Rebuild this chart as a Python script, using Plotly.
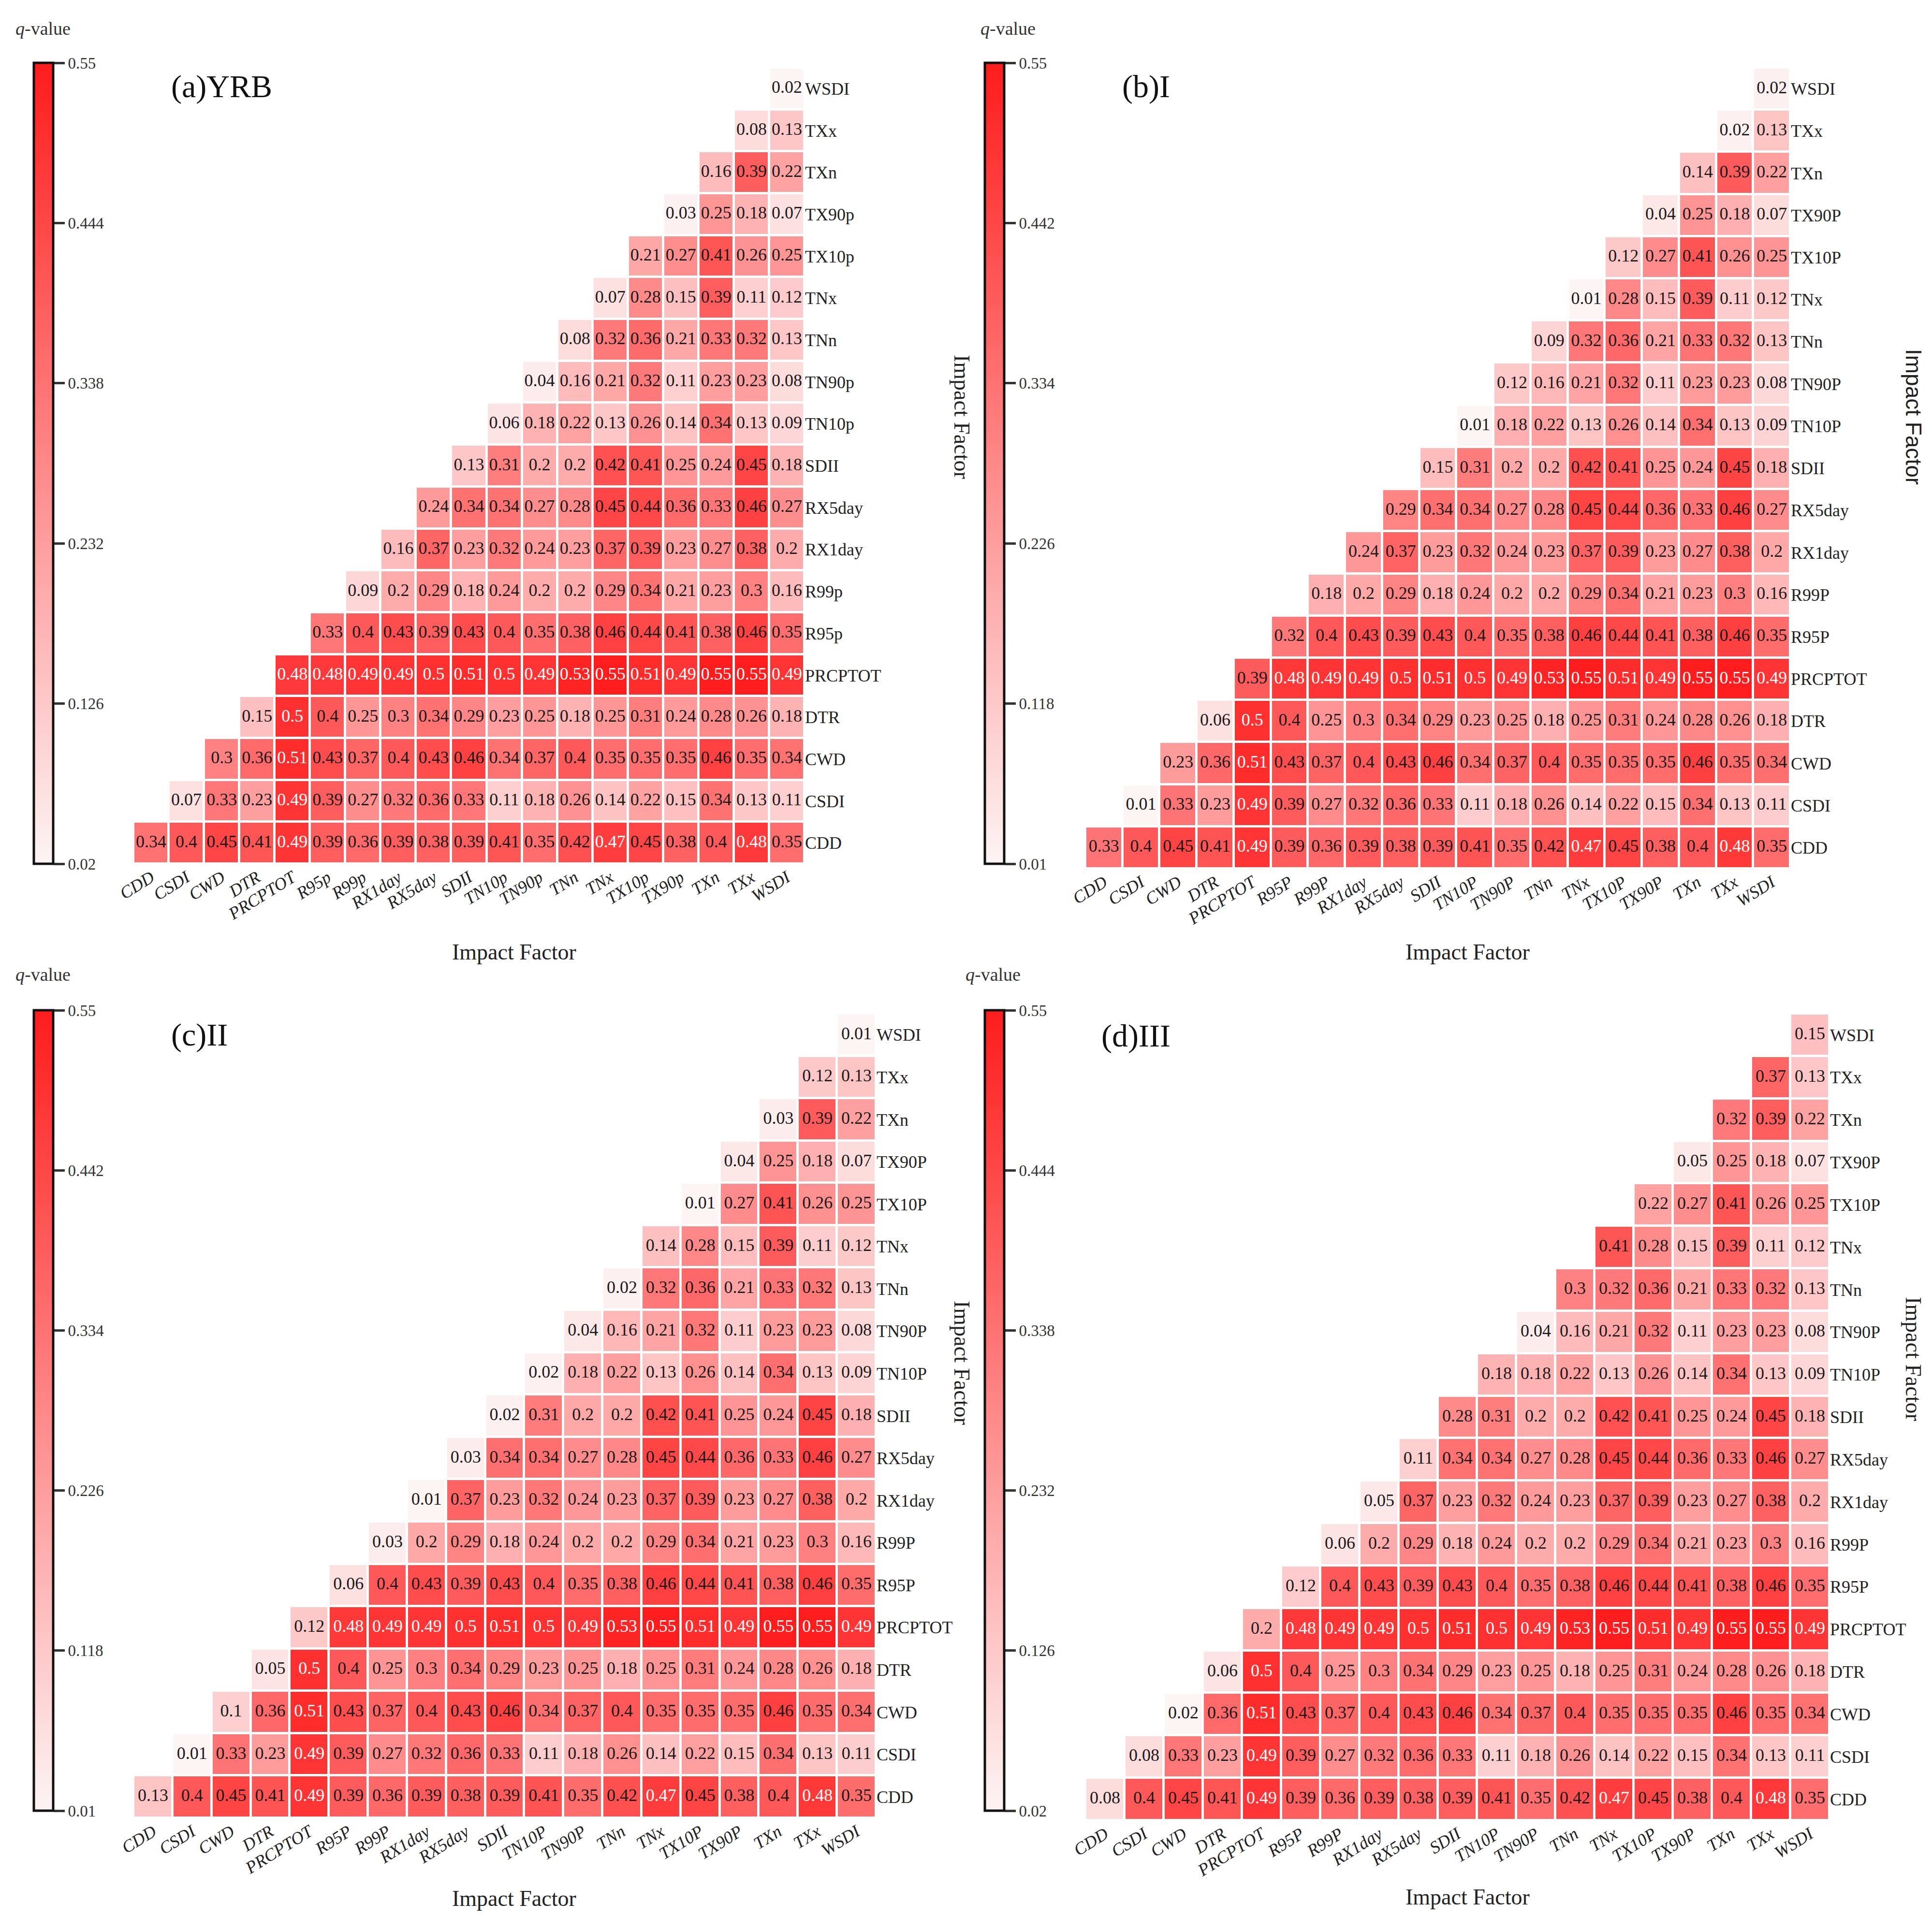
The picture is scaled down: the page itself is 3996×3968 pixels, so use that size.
import plotly.graph_objects as go

W, H = 3996, 3968

# factor names (panel a uses lower-case p, panels b-d upper-case P)
factors_yrb = ["CDD", "CSDI", "CWD", "DTR", "PRCPTOT", "R95p", "R99p", "RX1day", "RX5day", "SDII",
               "TN10p", "TN90p", "TNn", "TNx", "TX10p", "TX90p", "TXn", "TXx", "WSDI"]
factors_sub = ["CDD", "CSDI", "CWD", "DTR", "PRCPTOT", "R95P", "R99P", "RX1day", "RX5day", "SDII",
               "TN10P", "TN90P", "TNn", "TNx", "TX10P", "TX90P", "TXn", "TXx", "WSDI"]

# interaction q-values shared by all four panels (row factor, columns to the right of the diagonal)
q_CDD = [0.4, 0.45, 0.41, 0.49, 0.39, 0.36, 0.39, 0.38, 0.39, 0.41, 0.35, 0.42, 0.47, 0.45, 0.38, 0.4, 0.48, 0.35]
q_CSDI = [0.33, 0.23, 0.49, 0.39, 0.27, 0.32, 0.36, 0.33, 0.11, 0.18, 0.26, 0.14, 0.22, 0.15, 0.34, 0.13, 0.11]
q_CWD = [0.36, 0.51, 0.43, 0.37, 0.4, 0.43, 0.46, 0.34, 0.37, 0.4, 0.35, 0.35, 0.35, 0.46, 0.35, 0.34]
q_DTR = [0.5, 0.4, 0.25, 0.3, 0.34, 0.29, 0.23, 0.25, 0.18, 0.25, 0.31, 0.24, 0.28, 0.26, 0.18]
q_PRCPTOT = [0.48, 0.49, 0.49, 0.5, 0.51, 0.5, 0.49, 0.53, 0.55, 0.51, 0.49, 0.55, 0.55, 0.49]
q_R95 = [0.4, 0.43, 0.39, 0.43, 0.4, 0.35, 0.38, 0.46, 0.44, 0.41, 0.38, 0.46, 0.35]
q_R99 = [0.2, 0.29, 0.18, 0.24, 0.2, 0.2, 0.29, 0.34, 0.21, 0.23, 0.3, 0.16]
q_RX1day = [0.37, 0.23, 0.32, 0.24, 0.23, 0.37, 0.39, 0.23, 0.27, 0.38, 0.2]
q_RX5day = [0.34, 0.34, 0.27, 0.28, 0.45, 0.44, 0.36, 0.33, 0.46, 0.27]
q_SDII = [0.31, 0.2, 0.2, 0.42, 0.41, 0.25, 0.24, 0.45, 0.18]
q_TN10 = [0.18, 0.22, 0.13, 0.26, 0.14, 0.34, 0.13, 0.09]
q_TN90 = [0.16, 0.21, 0.32, 0.11, 0.23, 0.23, 0.08]
q_TNn = [0.32, 0.36, 0.21, 0.33, 0.32, 0.13]
q_TNx = [0.28, 0.15, 0.39, 0.11, 0.12]
q_TX10 = [0.27, 0.41, 0.26, 0.25]
q_TX90 = [0.25, 0.18, 0.07]
q_TXn = [0.39, 0.22]
q_TXx = [0.13]
q_WSDI = []

# single-factor q-values (diagonal) for each region
diag_yrb = [0.34, 0.07, 0.3, 0.15, 0.48, 0.33, 0.09, 0.16, 0.24, 0.13, 0.06, 0.04, 0.08, 0.07, 0.21, 0.03, 0.16, 0.08, 0.02]
diag_i = [0.33, 0.01, 0.23, 0.06, 0.39, 0.32, 0.18, 0.24, 0.29, 0.15, 0.01, 0.12, 0.09, 0.01, 0.12, 0.04, 0.14, 0.02, 0.02]
diag_ii = [0.13, 0.01, 0.1, 0.05, 0.12, 0.06, 0.03, 0.01, 0.03, 0.02, 0.02, 0.04, 0.02, 0.14, 0.01, 0.04, 0.03, 0.12, 0.01]
diag_iii = [0.08, 0.08, 0.02, 0.06, 0.2, 0.12, 0.06, 0.05, 0.11, 0.28, 0.18, 0.04, 0.3, 0.41, 0.22, 0.05, 0.32, 0.37, 0.15]

# colorbar ticks per panel
ticks_yrb = [0.02, 0.126, 0.232, 0.338, 0.444, 0.55]
ticks_i = [0.01, 0.118, 0.226, 0.334, 0.442, 0.55]
ticks_ii = [0.01, 0.118, 0.226, 0.334, 0.442, 0.55]
ticks_iii = [0.02, 0.126, 0.232, 0.338, 0.444, 0.55]

shared_rows = [q_CDD, q_CSDI, q_CWD, q_DTR, q_PRCPTOT, q_R95, q_R99, q_RX1day, q_RX5day, q_SDII,
               q_TN10, q_TN90, q_TNn, q_TNx, q_TX10, q_TX90, q_TXn, q_TXx, q_WSDI]

SERIF = "Liberation Serif"
SANS = "Liberation Sans"
cscale = [[0, "rgb(253,244,244)"], [1, "rgb(255,28,28)"]]


def px_x(p):
    return p / W


def px_y(p):
    return 1 - p / H


# panel geometry in pixels: grid box, colorbar box, text positions
panels = [
    dict(labels=factors_yrb, diag=diag_yrb, ticks=ticks_yrb, name="(a)YRB",
         grid=(268, 1656, 132, 1779), cb=(62, 122, 1779), qpos=(22, 51), tpos=(344, 171),
         rpos=(1982, 854), rfont=SERIF, bpos=(1055, 1962)),
    dict(labels=factors_sub, diag=diag_i, ticks=ticks_i, name="(b)I",
         grid=(2237, 3695, 132, 1789), cb=(2029, 122, 1779), qpos=(2018, 51), tpos=(2311, 171),
         rpos=(3950, 854), rfont=SANS, bpos=(3027, 1962)),
    dict(labels=factors_sub, diag=diag_ii, ticks=ticks_ii, name="(c)II",
         grid=(268, 1804, 2089, 3753), cb=(62, 2082, 3738), qpos=(22, 2008), tpos=(344, 2133),
         rpos=(1982, 2811), rfont=SERIF, bpos=(1055, 3919)),
    dict(labels=factors_sub, diag=diag_iii, ticks=ticks_iii, name="(d)III",
         grid=(2237, 3776, 2089, 3758), cb=(2029, 2082, 3738), qpos=(1987, 2008), tpos=(2268, 2135),
         rpos=(3950, 2803), rfont=SERIF, bpos=(3027, 3916)),
]

fig = go.Figure()
annotations = []
n = len(factors_yrb)

for k, p in enumerate(panels):
    labels = p["labels"]
    z = []
    tx, ty, tt, tc = [], [], [], []
    for i in range(n):
        row = [None] * n
        vals = [p["diag"][i]] + shared_rows[i]
        for off, v in enumerate(vals):
            j = i + off
            row[j] = v
            tx.append(labels[j])
            ty.append(labels[i])
            tt.append(f"{v:g}")
            tc.append("white" if v >= 0.47 else "#1a1a1a")
        z.append(row)

    sfx = "" if k == 0 else str(k + 1)
    xa, ya = "x" + sfx, "y" + sfx
    cbx, cby0, cby1 = p["cb"]
    fig.add_trace(go.Heatmap(
        z=z, x=labels, y=labels, xaxis=xa, yaxis=ya,
        colorscale=cscale, zmin=p["ticks"][0], zmax=p["ticks"][-1],
        xgap=5, ygap=5, hoverongaps=False,
        colorbar=dict(
            x=px_x(cbx), xanchor="left", y=px_y((cby0 + cby1) / 2), yanchor="middle",
            len=(cby1 - cby0) / H, lenmode="fraction", thickness=40, thicknessmode="pixels",
            outlinewidth=5, outlinecolor="#111", xpad=0, ypad=0,
            tickvals=p["ticks"], ticktext=[f"{t:g}" for t in p["ticks"]],
            ticks="outside", ticklen=22, tickwidth=5, tickcolor="#333",
            tickfont=dict(family=SERIF, size=33, color="#333"),
        ),
    ))
    fig.add_trace(go.Scatter(
        x=tx, y=ty, xaxis=xa, yaxis=ya, mode="text", text=tt,
        textfont=dict(family=SERIF, size=36, color=tc), hoverinfo="skip", showlegend=False,
    ))

    gx0, gx1, gy0, gy1 = p["grid"]
    axis_common = dict(showgrid=False, zeroline=False, showline=False, ticks="",
                       type="category", categoryorder="array", categoryarray=labels,
                       range=[-0.5, n - 0.5], automargin=False)
    fig.update_layout({
        "xaxis" + sfx: dict(axis_common, domain=[px_x(gx0), px_x(gx1)], anchor=ya,
                            tickangle=-32,
                            tickfont=dict(family=SERIF, size=36, color="#222", style="italic")),
        "yaxis" + sfx: dict(axis_common, domain=[px_y(gy1), px_y(gy0)], anchor=xa, side="right",
                            tickfont=dict(family=SERIF, size=36, color="#222")),
    })

    annotations += [
        dict(x=px_x(p["qpos"][0]), y=px_y(p["qpos"][1]), text="<i>q</i>-value", showarrow=False,
             xanchor="left", yanchor="middle", font=dict(family=SERIF, size=38, color="#333")),
        dict(x=px_x(p["tpos"][0]), y=px_y(p["tpos"][1]), text=p["name"], showarrow=False,
             xanchor="left", yanchor="middle", font=dict(family=SERIF, size=66, color="#111")),
        dict(x=px_x(p["rpos"][0]), y=px_y(p["rpos"][1]), text="Impact Factor", showarrow=False,
             textangle=90, xanchor="center", yanchor="middle",
             font=dict(family=p["rfont"], size=46, color="#222")),
        dict(x=px_x(p["bpos"][0]), y=px_y(p["bpos"][1]), text="Impact Factor", showarrow=False,
             xanchor="center", yanchor="middle", font=dict(family=SERIF, size=46, color="#222")),
    ]

for a in annotations:
    a.update(xref="paper", yref="paper")

fig.update_layout(
    width=W, height=H, margin=dict(l=0, r=0, t=0, b=0, autoexpand=False),
    paper_bgcolor="white", plot_bgcolor="white", showlegend=False,
    annotations=annotations, font=dict(family=SERIF),
)

fig.write_html("out.html")
